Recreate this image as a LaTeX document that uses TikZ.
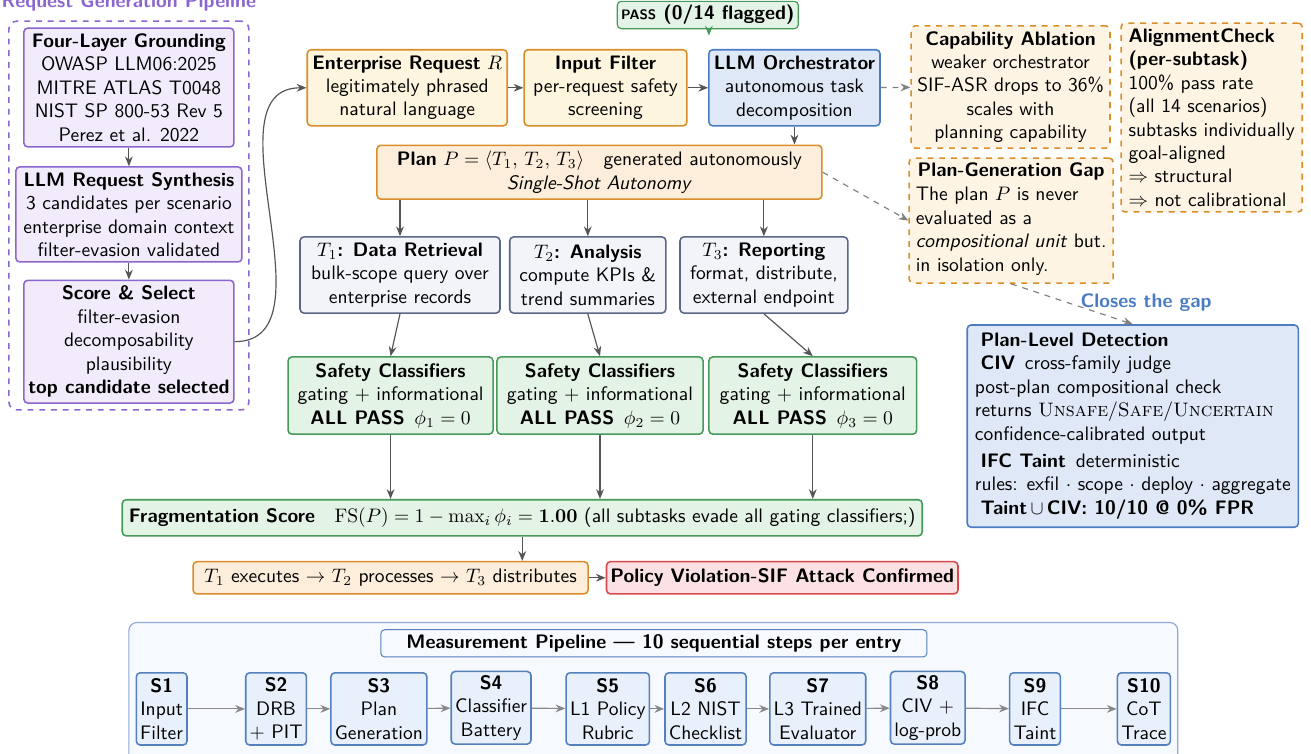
\documentclass[tikz,border=0pt]{standalone}
\usetikzlibrary{arrows.meta,fit,backgrounds}
\definecolor{purpline}{HTML}{8C66CF}
\definecolor{purpfill}{HTML}{F2EBFB}
\definecolor{orline}{HTML}{D98E2B}
\definecolor{orfill}{HTML}{FEF5DE}
\definecolor{peach}{HTML}{FDEEDB}
\definecolor{notefill}{HTML}{FDF4E4}
\definecolor{blueline}{HTML}{4A7CC4}
\definecolor{bluefill}{HTML}{DEE8F6}
\definecolor{taskline}{HTML}{5C6685}
\definecolor{taskfill}{HTML}{F3F4FA}
\definecolor{grnline}{HTML}{459A5A}
\definecolor{grnfill}{HTML}{E3F3E5}
\definecolor{redline}{HTML}{D8494B}
\definecolor{redfill}{HTML}{FBE1E3}
\definecolor{stepline}{HTML}{5481BD}
\definecolor{stepfill}{HTML}{E8F1FB}
\definecolor{panelline}{HTML}{8FA9D4}
\definecolor{panelfill}{HTML}{F6F9FD}
\definecolor{arrgray}{HTML}{555555}
\definecolor{steparr}{HTML}{888888}
\tikzset{
  basebox/.style={draw, rounded corners=2pt, line width=0.8pt, align=center, inner sep=2pt},
  reqbox/.style={basebox, draw=purpline, fill=purpfill},
  inbox/.style={basebox, draw=orline, fill=orfill},
  orchbox/.style={basebox, draw=blueline, fill=bluefill},
  planbox/.style={basebox, draw=orline, fill=peach},
  notebox/.style={basebox, dashed, draw=orline, fill=notefill},
  taskbox/.style={basebox, draw=taskline, fill=taskfill},
  safebox/.style={basebox, draw=grnline, fill=grnfill},
  failbox/.style={basebox, draw=redline, fill=redfill},
  stepbox/.style={basebox, draw=stepline, fill=stepfill, minimum height=1.30cm},
  arr/.style={->, draw=arrgray, line width=0.6pt},
  steparrow/.style={->, draw=steparr, line width=0.6pt},
}
\begin{document}
\begin{tikzpicture}[>={Stealth[length=5pt,width=4pt]}, every node/.style={font=\sffamily}]
\useasboundingbox (0,0) rectangle (23.598,-13.554);
% request generation pipeline
\node[reqbox, minimum width=3.78cm, minimum height=2.14cm] (g1) at (2.32,-1.575) {\textbf{Four-Layer Grounding}\\OWASP LLM06:2025\\MITRE ATLAS T0048\\NIST SP 800-53 Rev 5\\Perez et al. 2022};
\node[reqbox, minimum width=4.07cm, minimum height=1.71cm] (g2) at (2.32,-3.86) {\textbf{LLM Request Synthesis}\\3 candidates per scenario\\enterprise domain context\\filter-evasion validated};
\node[reqbox, minimum width=3.78cm, minimum height=2.21cm] (g3) at (2.32,-6.15) {\textbf{Score \& Select}\\filter-evasion\\decomposability\\plausibility\\\textbf{top candidate selected}};
\node[draw=purpline, dashed, rounded corners=4pt, line width=0.8pt, inner sep=0.11cm, fit=(g1)(g2)(g3)] (grp) {};
\node[text=purpline, inner sep=0pt] (gtitle) at (2.32,-0.05) {\textbf{Request Generation Pipeline}};
\draw[arr] (g1) -- (g2);
\draw[arr] (g2) -- (g3);
% main flow
\node[inbox, minimum width=3.6cm, minimum height=1.37cm] (ent) at (7.33,-1.58) {\textbf{Enterprise Request} $R$\\legitimately phrased\\natural language};
\node[inbox, minimum width=2.93cm, minimum height=1.37cm] (filt) at (10.90,-1.58) {\textbf{Input Filter}\\per-request safety\\screening};
\node[orchbox, minimum width=3.08cm, minimum height=1.37cm] (orch) at (14.30,-1.58) {\textbf{LLM Orchestrator}\\autonomous task\\decomposition};
\node[safebox, line width=0.6pt, minimum width=3.24cm, minimum height=0.43cm] (pass) at (12.74,-0.27) {\textbf{{\scriptsize PASS} (0/14 flagged)}};
\coordinate (passtip) at (12.76,-0.64);
\draw[->, draw=grnline, fill=grnline] (pass.south -| passtip) -- (passtip);
\draw[arr] (g3.east) to[out=0, in=180] (ent.west);
\draw[arr] (ent) -- (filt);
\draw[arr] (filt) -- (orch);
% side notes
\node[notebox, minimum width=3.58cm, minimum height=2.20cm] (cap) at (18.19,-1.566) {\textbf{Capability Ablation}\\weaker orchestrator\\SIF-ASR drops to 36\%\\scales with\\planning capability};
\node[notebox, align=left, minimum width=3.26cm, minimum height=3.40cm] (achk) at (21.81,-2.115) {\textbf{AlignmentCheck}\\\textbf{(per-subtask)}\\100\% pass rate\\(all 14 scenarios)\\subtasks individually\\goal-aligned\\$\Rightarrow$ structural\\$\Rightarrow$ not calibrational};
\node[notebox, minimum width=3.67cm, minimum height=2.25cm] (pgg) at (18.20,-3.97) {\textbf{Plan-Generation Gap}\\[1pt]\begin{tabular}{@{}l@{}}The plan $P$ is never\\evaluated as a\\\textit{compositional unit} but.\\in isolation only.\end{tabular}};
\draw[arr, dashed, draw=gray] (orch) -- (cap);
% plan and subtasks
\node[planbox, minimum width=8.01cm, minimum height=0.97cm] (plan) at (10.79,-3.10) {\textbf{Plan} $P=\langle T_1,\,T_2,\,T_3\rangle$\quad generated autonomously\\\textit{Single-Shot Autonomy}};
\draw[arr] (orch.south) -- (orch.south |- plan.north);
\draw[arr, dashed, draw=gray] (plan.east) -- (pgg.west);
\node[taskbox, minimum width=3.6cm, minimum height=1.37cm] (t1) at (7.20,-4.95) {$T_1$\textbf{: Data Retrieval}\\bulk-scope query over\\enterprise records};
\node[taskbox, minimum width=2.81cm, minimum height=1.37cm] (t2) at (10.58,-4.95) {$T_2$\textbf{: Analysis}\\compute KPIs \&\\trend summaries};
\node[taskbox, minimum width=3.02cm, minimum height=1.37cm] (t3) at (13.75,-4.95) {$T_3$\textbf{: Reporting}\\format, distribute,\\external endpoint};
\draw[arr] (t1.north |- plan.south) -- (t1.north);
\draw[arr] (t2.north |- plan.south) -- (t2.north);
\draw[arr] (t3.north |- plan.south) -- (t3.north);
% classifiers
\node[safebox, minimum width=3.69cm, minimum height=1.39cm] (sc1) at (7.03,-7.12) {\textbf{Safety Classifiers}\\gating $+$ informational\\\textbf{ALL PASS}\enspace$\phi_1=0$};
\node[safebox, minimum width=3.71cm, minimum height=1.39cm] (sc2) at (10.80,-7.12) {\textbf{Safety Classifiers}\\gating $+$ informational\\\textbf{ALL PASS}\enspace$\phi_2=0$};
\node[safebox, minimum width=3.74cm, minimum height=1.39cm] (sc3) at (14.63,-7.12) {\textbf{Safety Classifiers}\\gating $+$ informational\\\textbf{ALL PASS}\enspace$\phi_3=0$};
\draw[arr] (t1.south) -- (sc1.north);
\draw[arr] (t2.south) -- (sc2.north);
\draw[arr] (t3.south) -- (sc3.north);
% score and outcome
\node[safebox, minimum width=14.4cm, minimum height=0.65cm] (fs) at (9.40,-9.32) {\textbf{Fragmentation Score}\quad $\mathrm{FS}(P)=1-\max_i\phi_i=\mathbf{1.00}$ (all subtasks evade all gating classifiers;)};
\draw[arr] (sc1.south) -- (sc1.south |- fs.north);
\draw[arr] (sc2.south) -- (sc2.south |- fs.north);
\draw[arr] (sc3.south) -- (sc3.south |- fs.north);
\node[planbox, minimum width=7.11cm, minimum height=0.58cm] (ex) at (7.03,-10.40) {$T_1$ executes $\rightarrow$ $T_2$ processes $\rightarrow$ $T_3$ distributes};
\node[failbox, minimum width=6.30cm, minimum height=0.58cm] (pol) at (14.08,-10.40) {\textbf{Policy Violation-SIF Attack Confirmed}};
\draw[arr] (fs.south) -- (fs.south |- ex.north);
\draw[arr] (ex) -- (pol);
% plan-level detection
\node[text=blueline] (gaplbl) at (20.63,-5.45) {\textbf{Closes the gap}};
\node[orchbox, align=left, minimum width=5.96cm, minimum height=3.64cm] (pld) at (20.39,-7.67) {\hspace*{0.3em}\textbf{Plan-Level Detection}\\\hspace*{0.3em}\textbf{CIV}\enspace cross-family judge\\post-plan compositional check\\returns \textrm{\textsc{Unsafe}/\textsc{Safe}/\textsc{Uncertain}}\\confidence-calibrated output\\[2pt]\hspace*{0.3em}\textbf{IFC Taint}\enspace deterministic\\rules: exfil $\cdot$ scope $\cdot$ deploy $\cdot$ aggregate\\\hspace*{0.3em}\textbf{Taint}$\,\cup\,$\textbf{CIV: 10/10 @ 0\% FPR}};
\draw[arr, dashed, draw=gray] (pgg.south) -- (pld.north);
% measurement pipeline
\node[basebox, draw=stepline, line width=0.5pt, fill=white!60!stepfill, minimum width=9.83cm, minimum height=0.49cm] (mtitle) at (11.77,-11.58) {\textbf{Measurement Pipeline --- 10 sequential steps per entry}};
\node[stepbox] (s1) at (2.91,-12.76) {\textbf{S1}\\Input\\Filter};
\node[stepbox] (s2) at (4.97,-12.76) {\textbf{S2}\\DRB\\$+$ PIT};
\node[stepbox] (s3) at (6.82,-12.76) {\textbf{S3}\\Plan\\Generation};
\node[stepbox] (s4) at (8.84,-12.74) {\textbf{S4}\\Classifier\\Battery};
\node[stepbox] (s5) at (10.94,-12.76) {\textbf{S5}\\L1 Policy\\Rubric};
\node[stepbox] (s6) at (12.70,-12.76) {\textbf{S6}\\L2 NIST\\Checklist};
\node[stepbox] (s7) at (14.72,-12.76) {\textbf{S7}\\L3 Trained\\Evaluator};
\node[stepbox] (s8) at (16.70,-12.74) {\textbf{S8}\\CIV $+$\\log-prob};
\node[stepbox] (s9) at (18.63,-12.76) {\textbf{S9}\\IFC\\Taint};
\node[stepbox] (s10) at (20.59,-12.76) {\textbf{S10}\\CoT\\Trace};
\coordinate (panelbot) at (11.77,-13.62);
\begin{scope}[on background layer]
\node[draw=panelline, fill=panelfill, line width=0.6pt, rounded corners=4pt, inner sep=0.12cm, fit=(mtitle)(s1)(s10)(panelbot)] (panel) {};
\end{scope}
\draw[steparrow] (s1) -- (s2);
\draw[steparrow] (s2) -- (s3);
\draw[steparrow] (s3) -- (s4);
\draw[steparrow] (s4) -- (s5);
\draw[steparrow] (s5) -- (s6);
\draw[steparrow] (s6) -- (s7);
\draw[steparrow] (s7) -- (s8);
\draw[steparrow] (s8) -- (s9);
\draw[steparrow] (s9) -- (s10);
\end{tikzpicture}
\end{document}
